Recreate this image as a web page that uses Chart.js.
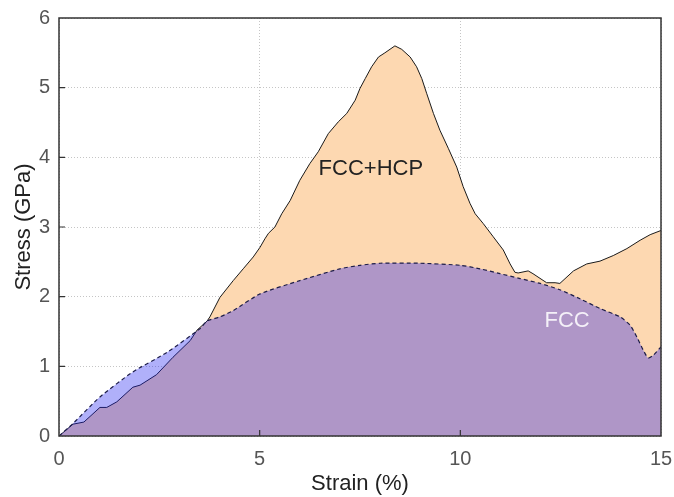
<!DOCTYPE html>
<html>
<head>
<meta charset="utf-8">
<script src="https://cdn.jsdelivr.net/npm/chart.js@4"></script>
<style>
  html, body { margin: 0; padding: 0; background: #fff; }
  #wrap { width: 674px; height: 497px; }
</style>
</head>
<body>
<div id="wrap"><canvas id="stressChart" width="674" height="497"></canvas></div>
<script>
// FCC+HCP curve (solid line)
const hcpStrain = [0, 0.35, 0.62, 1.02, 1.19, 1.44, 1.84, 2.02, 2.43, 2.84, 3.27, 3.44, 3.69, 3.76, 4.01, 4.34, 4.59, 4.84, 5.01, 5.13, 5.22, 5.38, 5.55, 5.76, 6.0, 6.25, 6.46, 6.71, 6.96, 7.17, 7.38, 7.5, 7.63, 7.79, 7.96, 8.12, 8.37, 8.54, 8.75, 8.91, 9.04, 9.16, 9.33, 9.49, 9.7, 9.91, 10.07, 10.24, 10.37, 10.57, 10.82, 11.07, 11.24, 11.36, 11.44, 11.69, 11.81, 12.15, 12.36, 12.48, 12.82, 13.15, 13.48, 13.81, 14.15, 14.48, 14.73, 15.0];
const hcpStress = [0, 0.17, 0.2, 0.41, 0.41, 0.49, 0.7, 0.73, 0.88, 1.13, 1.37, 1.52, 1.65, 1.71, 1.99, 2.23, 2.4, 2.57, 2.71, 2.83, 2.91, 3.0, 3.19, 3.38, 3.67, 3.91, 4.08, 4.34, 4.51, 4.63, 4.82, 4.99, 5.13, 5.3, 5.44, 5.5, 5.6, 5.55, 5.44, 5.3, 5.13, 4.92, 4.63, 4.39, 4.13, 3.86, 3.58, 3.34, 3.19, 3.05, 2.86, 2.67, 2.47, 2.35, 2.34, 2.37, 2.33, 2.2, 2.2, 2.19, 2.37, 2.47, 2.51, 2.59, 2.69, 2.81, 2.89, 2.95];

// FCC curve (dashed line)
const fccStrain = [0, 0.35, 1.02, 1.84, 2.69, 3.51, 3.69, 4.01, 4.34, 5.01, 6.0, 7.0, 7.5, 8.0, 9.0, 10.0, 10.49, 10.99, 11.49, 11.99, 12.48, 12.98, 13.48, 13.98, 14.23, 14.4, 14.56, 14.68, 14.81, 15.0];
const fccStress = [0, 0.18, 0.56, 0.92, 1.2, 1.54, 1.65, 1.71, 1.8, 2.04, 2.23, 2.4, 2.45, 2.48, 2.48, 2.45, 2.4, 2.33, 2.26, 2.19, 2.1, 1.97, 1.83, 1.71, 1.59, 1.42, 1.23, 1.12, 1.16, 1.28];

const xTicks = [0, 5, 10, 15];
const yTicks = [0, 1, 2, 3, 4, 5, 6];

// text labels inside the plot, in data coordinates
const labels = [
    { text: 'FCC+HCP', x: 7.77, y: 3.84, color: '#222222' },
    { text: 'FCC', x: 12.66, y: 1.65, color: '#f4f0f8' }
];

const FONT = '"Liberation Sans", Arial, sans-serif';
const toPoints = (xs, ys) => xs.map((x, i) => ({ x: x, y: ys[i] }));

// frame on all four sides, inward ticks and the phase labels
const framePlugin = {
    id: 'frame',
    afterDraw(chart) {
        const { ctx, chartArea: a, scales } = chart;
        ctx.save();
        ctx.strokeStyle = '#333333';
        ctx.lineWidth = 1.5;
        ctx.strokeRect(a.left, a.top, a.right - a.left, a.bottom - a.top);
        ctx.lineWidth = 1.2;
        ctx.beginPath();
        xTicks.slice(1, -1).forEach(v => {
            const px = scales.x.getPixelForValue(v);
            ctx.moveTo(px, a.bottom);
            ctx.lineTo(px, a.bottom - 6);
        });
        yTicks.slice(1, -1).forEach(v => {
            const py = scales.y.getPixelForValue(v);
            ctx.moveTo(a.left, py);
            ctx.lineTo(a.left + 6, py);
        });
        ctx.stroke();

        ctx.font = '22px ' + FONT;
        ctx.textAlign = 'center';
        ctx.textBaseline = 'middle';
        labels.forEach(l => {
            ctx.fillStyle = l.color;
            ctx.fillText(l.text, scales.x.getPixelForValue(l.x), scales.y.getPixelForValue(l.y));
        });
        ctx.restore();
    }
};

const ctx = document.getElementById('stressChart').getContext('2d');

new Chart(ctx, {
    type: 'line',
    data: {
        datasets: [{
            label: 'FCC',
            data: toPoints(fccStrain, fccStress),
            borderColor: '#1c1c48',
            borderWidth: 1.2,
            borderDash: [4, 3],
            backgroundColor: 'rgba(30, 30, 240, 0.35)',
            fill: 'origin',
            pointRadius: 0,
            tension: 0.2,
            order: 0
        }, {
            label: 'FCC+HCP',
            data: toPoints(hcpStrain, hcpStress),
            borderColor: '#1a1a1a',
            borderWidth: 1,
            backgroundColor: 'rgb(253, 216, 177)',
            fill: 'origin',
            pointRadius: 0,
            tension: 0,
            order: 1
        }]
    },
    options: {
        responsive: false,
        animation: false,
        layout: { autoPadding: false, padding: { top: 18, right: 13, left: 11, bottom: 0 } },
        plugins: {
            legend: { display: false },
            tooltip: { enabled: false }
        },
        scales: {
            x: {
                type: 'linear',
                min: 0,
                max: 15,
                z: 1,
                afterBuildTicks: axis => { axis.ticks = xTicks.map(v => ({ value: v })); },
                afterFit: axis => {
                    axis.height = 61;
                    axis.paddingLeft = 0;
                    axis.paddingRight = 0;
                },
                ticks: {
                    color: '#555555',
                    font: { family: FONT, size: 20 },
                    padding: 11
                },
                grid: {
                    color: 'rgba(150, 150, 150, 0.55)',
                    lineWidth: 1,
                    drawTicks: false
                },
                border: { display: false, dash: [1, 2] },
                title: {
                    display: true,
                    text: 'Strain (%)',
                    color: '#222222',
                    font: { family: FONT, size: 22 },
                    padding: { top: 0, bottom: 0 }
                }
            },
            y: {
                type: 'linear',
                min: 0,
                max: 6,
                z: 1,
                afterBuildTicks: axis => { axis.ticks = yTicks.map(v => ({ value: v })); },
                afterFit: axis => {
                    axis.width = 48;
                    axis.paddingTop = 0;
                    axis.paddingBottom = 0;
                },
                ticks: {
                    color: '#555555',
                    font: { family: FONT, size: 20 },
                    padding: 9
                },
                grid: {
                    color: 'rgba(150, 150, 150, 0.55)',
                    lineWidth: 1,
                    drawTicks: false
                },
                border: { display: false, dash: [1, 2] },
                title: {
                    display: true,
                    text: 'Stress (GPa)',
                    color: '#222222',
                    font: { family: FONT, size: 22 },
                    padding: { top: 0, bottom: 0 }
                }
            }
        }
    },
    plugins: [framePlugin]
});
</script>
</body>
</html>
